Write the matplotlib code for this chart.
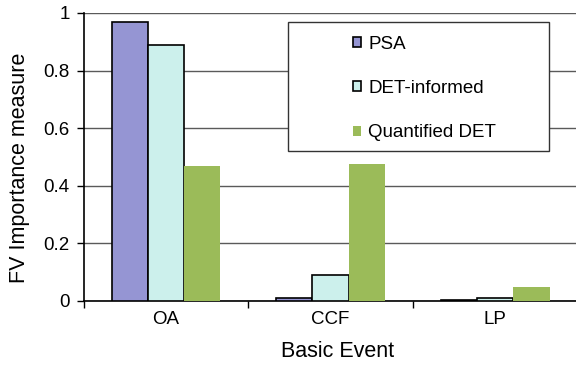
import matplotlib.pyplot as plt
import numpy as np
from matplotlib.patches import Rectangle

plt.rcParams['font.family'] = ['Liberation Sans', 'DejaVu Sans']

events = ['OA', 'CCF', 'LP']
psa = [0.97, 0.01, 0.005]
det_informed = [0.89, 0.09, 0.009]
quantified_det = [0.47, 0.477, 0.049]
yticks = [0, 0.2, 0.4, 0.6, 0.8, 1]
ytick_labels = ['0', '0.2', '0.4', '0.6', '0.8', '1']

fig = plt.figure(figsize=(5.76, 3.66), dpi=100)
ax = fig.add_axes([0.145, 0.1776, 0.8576, 0.787])

x = np.arange(len(events))
w = 0.22
ax.bar(x - w, psa, w, color='#9595D3', edgecolor='black', linewidth=1.2, label='PSA', zorder=3)
ax.bar(x, det_informed, w, color='#CCF0EC', edgecolor='black', linewidth=1.2, label='DET-informed', zorder=3)
ax.bar(x + w, quantified_det, w, color='#9BBB59', edgecolor='none', label='Quantified DET', zorder=3)

ax.set_xlim(-0.5, 2.5)
ax.set_ylim(0, 1)
ax.set_yticks(yticks)
ax.set_yticklabels(ytick_labels)
ax.set_xticks(x)
ax.set_xticklabels(events)
ax.set_xticks([-0.5, 0.5, 1.5, 2.5], minor=True)
ax.tick_params(axis='x', which='major', length=0, pad=7, labelsize=13.5)
ax.tick_params(axis='x', which='minor', length=5, width=1, direction='out')
ax.tick_params(axis='y', length=5, width=1, direction='out', labelsize=13.5, pad=5)

ax.yaxis.grid(True, color='#5a5a5a', linewidth=1)
ax.set_axisbelow(True)
for s in ['top', 'right']:
    ax.spines[s].set_visible(False)
ax.spines['left'].set_linewidth(1.2)
ax.spines['bottom'].set_linewidth(1.2)

ax.set_ylabel('FV Importance measure', fontsize=15.5)
ax.yaxis.set_label_coords(-0.109, 0.462)
ax.set_xlabel('Basic Event', fontsize=15.5)
ax.xaxis.set_label_coords(0.515, -0.139)

# legend box
ax.add_patch(Rectangle((0.414, 0.521), 0.528, 0.448, transform=ax.transAxes,
                       facecolor='white', edgecolor='#333333', linewidth=1, zorder=5))
leg = ax.legend(loc='upper left', bbox_to_anchor=(0.511, 0.979), frameon=False,
                fontsize=13.5, handlelength=0.45, handleheight=0.45, handletextpad=0.37,
                labelspacing=1.45)
leg.set_zorder(6)

fig.savefig('out.png', dpi=100)
